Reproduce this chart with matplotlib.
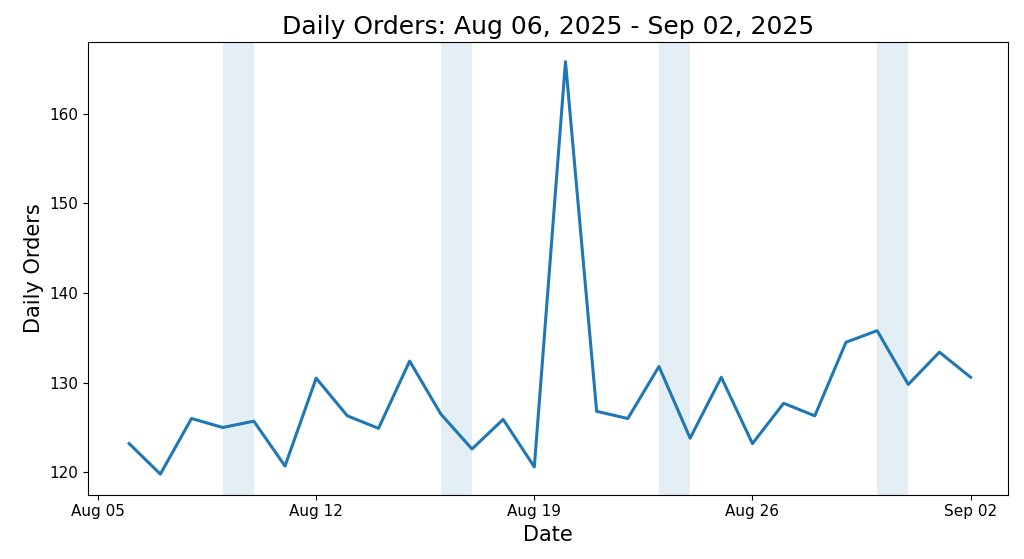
import datetime as dt

import matplotlib
matplotlib.use("Agg")
import matplotlib.pyplot as plt
import matplotlib.dates as mdates

# Data
start_date = dt.datetime(2025, 8, 6)
orders = [123.2, 119.8, 126.0, 125.0, 125.7, 120.7, 130.5, 126.3, 124.9, 132.4,
          126.5, 122.6, 125.9, 120.6, 165.8, 126.8, 126.0, 131.8, 123.8, 130.6,
          123.2, 127.7, 126.3, 134.5, 135.8, 129.8, 133.4, 130.6]
weekend_starts = ["2025-08-09", "2025-08-16", "2025-08-23", "2025-08-30"]
tick_dates = ["2025-08-05", "2025-08-12", "2025-08-19", "2025-08-26", "2025-09-02"]

dates = [start_date + dt.timedelta(days=i) for i in range(len(orders))]

fig = plt.figure(figsize=(10.24, 5.59), dpi=100)
ax = fig.add_axes([0.086, 0.115, 0.898, 0.81])

for s in weekend_starts:
    d0 = dt.datetime.strptime(s, "%Y-%m-%d")
    ax.axvspan(d0, d0 + dt.timedelta(days=1), color="#1f77b4", alpha=0.12, lw=0)

ax.plot(dates, orders, color="#1f77b4", lw=2.2)

ax.set_xticks([dt.datetime.strptime(t, "%Y-%m-%d") for t in tick_dates])
ax.xaxis.set_major_formatter(mdates.DateFormatter("%b %d"))
ax.set_xlim(dt.datetime(2025, 8, 4, 16, 20), dt.datetime(2025, 9, 3, 4, 30))
ax.set_ylim(117.5, 168)
ax.set_yticks([120, 130, 140, 150, 160])
ax.tick_params(labelsize=11)

ax.set_title("Daily Orders: Aug 06, 2025 - Sep 02, 2025", fontsize=18)
ax.set_xlabel("Date", fontsize=15, labelpad=4)
ax.set_ylabel("Daily Orders", fontsize=15)

fig.savefig("out.png", dpi=100)
